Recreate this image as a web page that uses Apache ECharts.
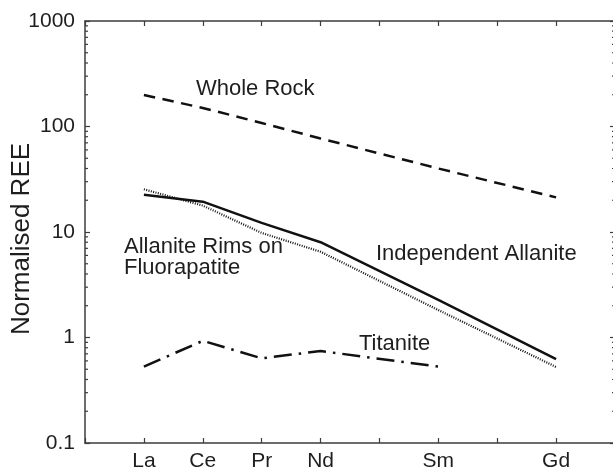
<!DOCTYPE html>
<html>
<head>
<meta charset="utf-8">
<script src="https://cdn.jsdelivr.net/npm/echarts@6/dist/echarts.min.js"></script>
<style>
  html, body { margin: 0; padding: 0; background: #fff; }
  #chart { width: 613px; height: 473px; }
</style>
</head>
<body>
<div id="chart"></div>
<script>
// Rare earth elements along the x axis (Pm and Eu keep their slots but carry no label)
var elements   = ['La', 'Ce', 'Pr', 'Nd', 'Pm', 'Sm', 'Eu', 'Gd'];
var tickLabels = ['La', 'Ce', 'Pr', 'Nd', '',   'Sm', '',   'Gd'];

// Chondrite-normalised REE abundances (null = not analysed)
var wholeRock   = [199, 150, 108, 77, null, 40, null, 21.3];
var independent = [22.6, 19.4, 12.2, 8.0, null, 2.27, null, 0.625];
var rimsOnFap   = [25.4, 17.8, 9.8, 6.5, null, 1.82, null, 0.525];
var titanite    = [0.53, 0.93, 0.635, 0.745, null, 0.53, null, null];

// Log axis range and decade labels
var yTicks = [0.1, 1, 10, 100, 1000];

var FONT = "'Liberation Sans', Arial, Helvetica, sans-serif";
var INK = '#1e1e1e';
var AXIS = '#3c3c3c';

function toPairs(values) {
  var out = [];
  values.forEach(function (v, i) { if (v != null) out.push([i, v]); });
  return out;
}

// 2..9 x 10^k positions for the minor log ticks
var minorValues = [];
for (var d = 0; d < yTicks.length - 1; d++) {
  for (var m = 2; m <= 9; m++) minorValues.push([-1, +(m * yTicks[d]).toPrecision(3)]);
}

var xMin = -1, xMax = elements.length;

var chart = echarts.init(document.getElementById('chart'), null, { renderer: 'canvas' });

var baseX = {
  type: 'value', min: xMin, max: xMax, interval: 1,
  splitLine: { show: false },
  axisLine: { show: true, onZero: false, lineStyle: { color: AXIS, width: 1.5 } },
  axisTick: { show: true, inside: true, length: 5, lineStyle: { color: AXIS, width: 1.2 } }
};
var baseY = {
  type: 'log', logBase: 10, min: 0.1, max: 1000,
  splitLine: { show: false },
  axisLine: { show: true, onZero: false, lineStyle: { color: AXIS, width: 1.5 } },
  axisTick: { show: true, inside: true, length: 5, lineStyle: { color: AXIS, width: 1.2 } }
};

function lineSeries(name, values, dash, width) {
  return {
    name: name, type: 'line', data: toPairs(values),
    xAxisIndex: 0, yAxisIndex: 0,
    symbol: 'none', connectNulls: true, silent: true, animation: false,
    lineStyle: { color: '#111', width: width, type: dash, cap: 'butt' }
  };
}

chart.setOption({
  animation: false,
  backgroundColor: '#fff',
  grid: { left: 85, top: 21, right: -2, bottom: 30, outerBoundsMode: 'none' },
  xAxis: [
    Object.assign({}, baseX, {
      position: 'bottom',
      axisLabel: {
        show: true, margin: 8, color: INK, fontSize: 21, fontFamily: FONT,
        formatter: function (v) {
          return (v >= 0 && v < tickLabels.length) ? tickLabels[v] : '';
        }
      }
    }),
    Object.assign({}, baseX, { position: 'top', axisLabel: { show: false } })
  ],
  yAxis: [
    Object.assign({}, baseY, {
      position: 'left',
      name: 'Normalised REE', nameLocation: 'middle', nameGap: 50, nameRotate: 90,
      nameMoveOverlap: false,
      nameTextStyle: { color: INK, fontSize: 26, fontFamily: FONT, padding: [0, 14, 0, 0] },
      axisLabel: {
        show: true, margin: 10, color: INK, fontSize: 21, fontFamily: FONT,
        formatter: function (v) { return String(+v.toPrecision(3)); }
      }
    }),
    Object.assign({}, baseY, { position: 'right', axisLabel: { show: false } })
  ],
  series: [
    lineSeries('Whole Rock', wholeRock, [11.5, 7.5], 2.5),
    lineSeries('Independent Allanite', independent, 'solid', 2.5),
    lineSeries('Allanite Rims on Fluorapatite', rimsOnFap, [1, 1.4], 2.2),
    lineSeries('Titanite', titanite, [18, 7, 2.5, 7], 2.5),
    {
      // minor log ticks on both vertical axes
      type: 'custom', silent: true, animation: false,
      xAxisIndex: 0, yAxisIndex: 0,
      data: minorValues,
      renderItem: function (params, api) {
        var v = api.value(1);
        var l = api.coord([xMin, v]);
        var r = api.coord([xMax, v]);
        var style = { stroke: AXIS, lineWidth: 1.2 };
        return {
          type: 'group',
          children: [
            { type: 'line', shape: { x1: l[0], y1: l[1], x2: l[0] + 3, y2: l[1] }, style: style },
            { type: 'line', shape: { x1: r[0], y1: r[1], x2: r[0] - 3, y2: r[1] }, style: style }
          ]
        };
      }
    }
  ],
  graphic: [
    { type: 'text', left: 196, top: 78, style: { text: 'Whole Rock', fill: INK, font: '22px ' + FONT } },
    { type: 'text', left: 124, top: 236, style: { text: 'Allanite Rims on\nFluorapatite', fill: INK, font: '22px ' + FONT, lineHeight: 21 } },
    { type: 'text', left: 376, top: 243, style: { text: 'Independent Allanite', fill: INK, font: '22px ' + FONT } },
    { type: 'text', left: 359, top: 333, style: { text: 'Titanite', fill: INK, font: '22px ' + FONT } }
  ]
});
</script>
</body>
</html>
